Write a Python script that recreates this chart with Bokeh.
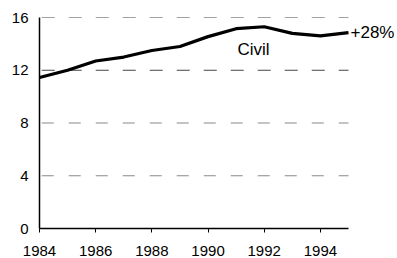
from bokeh.plotting import figure
from bokeh.models import Range1d, FixedTicker
from bokeh.core.properties import value
from bokeh.embed import file_html
from bokeh.resources import INLINE

years = [1984, 1985, 1986, 1987, 1988, 1989, 1990, 1991, 1992, 1993, 1994, 1995]
civil = [11.45, 12.0, 12.7, 13.0, 13.5, 13.8, 14.55, 15.15, 15.3, 14.8, 14.6, 14.85]
x_ticks = [1984, 1986, 1988, 1990, 1992, 1994]
y_ticks = [0, 4, 8, 12, 16]
grid_dark = [12, 16]
grid_light = [4, 8]
series_label = "Civil"
end_label = "+28%"

FONT = "Liberation Sans"

W, H = 397, 258
left, right, top, bottom = 39, 1, 17, 29
frame_w = W - left - right
px_per_year = 309 / (years[-1] - years[0])
x_end = years[0] + frame_w / px_per_year

p = figure(width=W, height=H, output_backend="svg", toolbar_location=None,
           x_range=Range1d(years[0], x_end), y_range=Range1d(0, 16),
           min_border_left=left, min_border_right=right, min_border_top=top,
           min_border_bottom=bottom)
p.outline_line_color = None
p.xgrid.visible = False
p.ygrid.visible = False

x0, x1 = years[0] + 0.08, years[-1]
p.segment(x0=[x0] * len(grid_dark), x1=[x1] * len(grid_dark), y0=grid_dark, y1=grid_dark,
          line_color="#444444", line_width=1, line_dash="13 14")
p.segment(x0=[x0] * len(grid_light), x1=[x1] * len(grid_light), y0=grid_light, y1=grid_light,
          line_color="#888888", line_width=1, line_dash="12 15")

p.line(years, civil, line_color="black", line_width=3.2)

p.text(x=[1991.05], y=[13.6], text=[series_label], text_font=value(FONT),
       text_font_size="17px", text_baseline="middle", text_align="left", text_color="black")
p.text(x=[years[-1]], y=[civil[-1]], text=[end_label], x_offset=2, text_font=value(FONT),
       text_font_size="17px", text_baseline="middle", text_align="left", text_color="black")

for ax in (p.xaxis[0], p.yaxis[0]):
    ax.axis_line_color = "black"
    ax.axis_line_width = 1.5
    ax.major_label_text_font = FONT
    ax.major_label_text_font_size = "15px"
    ax.major_label_text_color = "black"
    ax.minor_tick_line_color = None
    ax.major_tick_in = 0

p.xaxis[0].ticker = FixedTicker(ticks=x_ticks)
p.xaxis[0].bounds = (years[0], years[-1])
p.xaxis[0].major_tick_out = 4
p.xaxis[0].major_tick_line_color = "black"
p.xaxis[0].major_label_standoff = 13
p.yaxis[0].ticker = FixedTicker(ticks=y_ticks)
p.yaxis[0].major_tick_out = 0
p.yaxis[0].major_label_standoff = 11

open("out.html", "w").write(file_html(p, INLINE))
